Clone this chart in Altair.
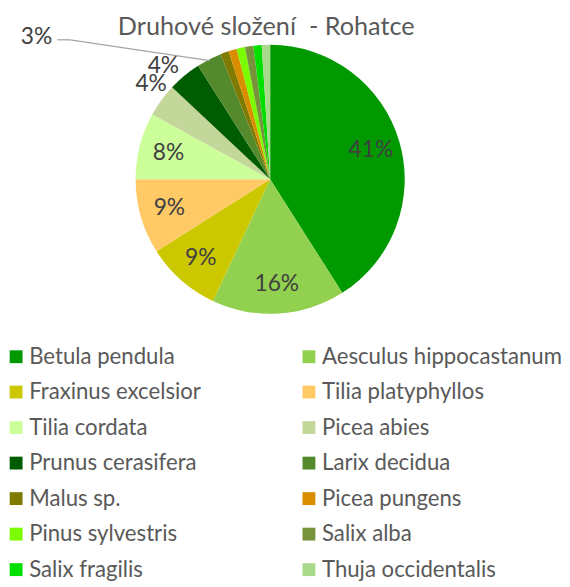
import altair as alt
import pandas as pd

species = ["Betula pendula", "Aesculus hippocastanum", "Fraxinus excelsior",
           "Tilia platyphyllos", "Tilia cordata", "Picea abies",
           "Prunus cerasifera", "Larix decidua", "Malus sp.", "Picea pungens",
           "Pinus sylvestris", "Salix alba", "Salix fragilis", "Thuja occidentalis"]
shares = [41, 16, 9, 9, 8, 4, 4, 3, 1, 1, 1, 1, 1, 1]
colors = ["#009A00", "#92D050", "#CCC800", "#FFC966", "#CCFF99", "#C4D79B",
          "#005C00", "#548A2C", "#7F7A00", "#D98E00", "#7CFC00", "#77933C",
          "#00E000", "#A9D98B"]

df = pd.DataFrame({"species": species, "share": shares,
                   "order": list(range(len(species)))})

W, H = 530, 272
R = 136
CX, CY = W / 2, H / 2
FONT = "Lato"
LBL = 23
TXT = "#404040"

color = alt.Color(
    "species:N",
    scale=alt.Scale(domain=species, range=colors),
    legend=alt.Legend(
        orient="none", legendX=1, legendY=304, columns=2, direction="horizontal",
        title=None, symbolType="square", symbolSize=169, symbolStrokeWidth=0,
        symbolOffset=-4,
        labelFont=FONT, labelFontSize=22.4, labelColor="#595959",
        labelLimit=400, rowPadding=12.9, columnPadding=102, labelOffset=2,
        padding=0,
    ),
)

base = alt.Chart(df).encode(
    theta=alt.Theta("share:Q", stack=True),
    order=alt.Order("order:Q"),
)

pie = base.mark_arc(outerRadius=R).encode(color=color)

inner_labels = base.mark_text(font=FONT, fontSize=LBL, color=TXT).encode(
    radius=alt.value(R * 0.78),
    text="lbl:N",
).transform_calculate(
    lbl="datum.share >= 5 ? datum.share + '%' : ''",
)

# mid-angle of every slice, for the labels outside the pie
geo = alt.Chart(df).transform_window(
    cum="sum(share)", sort=[alt.SortField("order")]
).transform_joinaggregate(
    total="sum(share)"
).transform_calculate(
    a="2 * PI * (datum.cum - datum.share / 2) / datum.total",
    lbl="datum.share + '%'",
).transform_calculate(
    ox=f"{CX} + {R * 1.13} * sin(datum.a)",
    oy=f"{CY} - {R * 1.13} * cos(datum.a)",
    px=f"{CX} + {R * 0.99} * sin(datum.a)",
    py=f"{CY} - {R * 0.99} * cos(datum.a)",
)

picea_label = geo.transform_filter(
    alt.datum.species == "Picea abies"
).mark_text(font=FONT, fontSize=LBL, color=TXT, dx=4, dy=-6).encode(
    x=alt.X("ox:Q", scale=None), y=alt.Y("oy:Q", scale=None), text="lbl:N",
)

prunus_label = geo.transform_filter(
    alt.datum.species == "Prunus cerasifera"
).mark_text(font=FONT, fontSize=LBL, color=TXT, dx=-10, dy=4).encode(
    x=alt.X("ox:Q", scale=None), y=alt.Y("oy:Q", scale=None), text="lbl:N",
)

larix = geo.transform_filter(
    alt.datum.species == "Larix decidua"
).transform_calculate(
    kx="datum.px - 141", ky="datum.py - 21",
    lx="datum.px - 154",
    tx="datum.px - 175", ty="datum.py - 24",
)

leader1 = larix.mark_rule(color="#A6A6A6", strokeWidth=1.3).encode(
    x=alt.X("px:Q", scale=None), y=alt.Y("py:Q", scale=None),
    x2="kx:Q", y2="ky:Q",
)
leader2 = larix.mark_rule(color="#A6A6A6", strokeWidth=1.3).encode(
    x=alt.X("kx:Q", scale=None), y=alt.Y("ky:Q", scale=None),
    x2="lx:Q", y2="ky:Q",
)
larix_label = larix.mark_text(font=FONT, fontSize=LBL, color=TXT).encode(
    x=alt.X("tx:Q", scale=None), y=alt.Y("ty:Q", scale=None),
    text="lbl:N",
)

chart = alt.layer(pie, inner_labels, picea_label, prunus_label, leader1,
                  leader2, larix_label).properties(
    width=W, height=H,
    padding={"left": 0, "top": 4, "right": 0, "bottom": 0},
    title=alt.TitleParams("Druhové složení\u00a0 - Rohatce", font=FONT,
                          fontSize=25.5, fontWeight="normal", color="#595959",
                          anchor="middle", frame="group", dx=-4, dy=15,
                          offset=0),
).configure_view(stroke=None)

chart.save("out.html", embed_options={"renderer": "svg", "actions": False})
